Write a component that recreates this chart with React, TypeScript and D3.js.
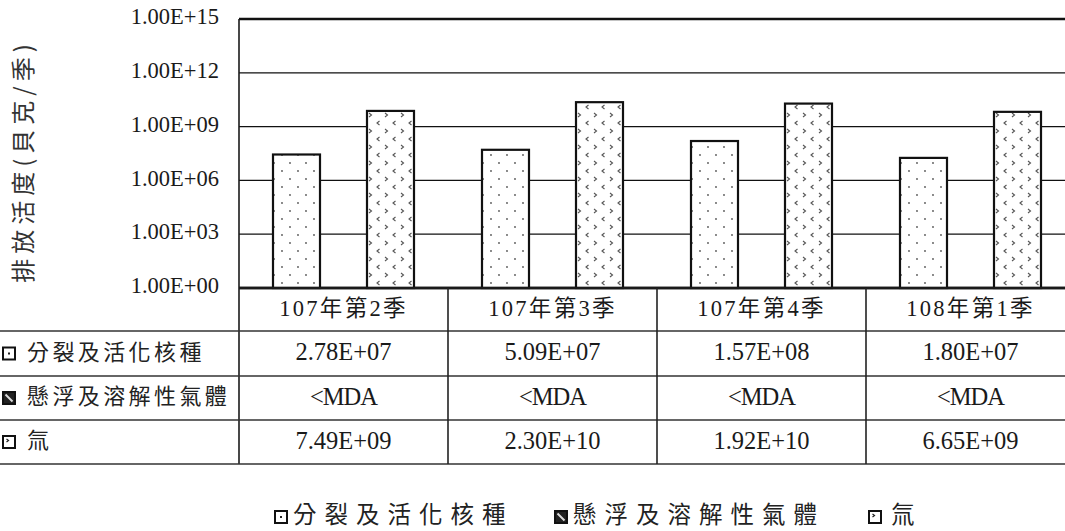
import React from 'react';
import * as d3 from 'd3';

const categories = ['107年第2季', '107年第3季', '107年第4季', '108年第1季'];
const seriesNames = ['分裂及活化核種', '懸浮及溶解性氣體', '氚'];
const fissionValues: (number | null)[] = [2.78e7, 5.09e7, 1.57e8, 1.8e7];
const gasValues: (number | null)[] = [null, null, null, null];
const tritiumValues: (number | null)[] = [7.49e9, 2.3e10, 1.92e10, 6.65e9];
const yTicks = [1e0, 1e3, 1e6, 1e9, 1e12, 1e15];
const yTitle = '排放活度(貝克/季)';
const missingLabel = '<MDA';

const W = 1065;
const H = 531;
const plotLeft = 239;
const plotRight = 1075;
const plotTop = 19;
const plotBottom = 288;
const rowBottoms = [331, 376, 420, 464];

const serif = '"Liberation Serif", "Noto Sans CJK TC", serif';
const cjk = '"Liberation Serif", "Noto Sans CJK TC", sans-serif';
const cjkOnly = '"Noto Sans CJK TC", sans-serif';
const ink = '#1a1a1a';

function fmtExp(v: number | null): string {
  if (v === null) return missingLabel;
  const e = Math.floor(Math.log10(v));
  const m = v / Math.pow(10, e);
  const sign = e >= 0 ? '+' : '-';
  return `${m.toFixed(2)}E${sign}${String(Math.abs(e)).padStart(2, '0')}`;
}

const seriesData = [fissionValues, gasValues, tritiumValues];
const patternIds = ['pDots', 'pHatch', 'pChev'];

function KeyBox({ x, y, idx }: { x: number; y: number; idx: number }) {
  const s = 12;
  return (
    <g transform={`translate(${x},${y})`}>
      <rect x={0} y={0} width={s} height={s} fill={idx === 1 ? '#222' : '#fff'} stroke="#111" strokeWidth={2} />
      {idx === 0 && <rect x={5} y={5} width={2} height={2} fill="#222" />}
      {idx === 1 && <line x1={2.5} y1={2.5} x2={9.5} y2={9.5} stroke="#ddd" strokeWidth={2} />}
      {idx === 2 && <path d="M3.5,3 L5.5,4.5 L3.5,6" fill="none" stroke="#222" strokeWidth={1.2} />}
    </g>
  );
}

export default function App() {
  const y = d3.scaleLog().domain([1, 1e15]).range([plotBottom, plotTop]);
  const x0 = d3.scaleBand<string>().domain(categories).range([plotLeft, plotRight]).paddingInner(0).paddingOuter(0);
  const bw = x0.bandwidth();
  const gap = 34;
  const x1 = d3.scaleBand<number>().domain([0, 1, 2]).range([gap, bw - gap]).padding(0);

  const rowCenters = [
    (plotBottom + rowBottoms[0]) / 2,
    (rowBottoms[0] + rowBottoms[1]) / 2,
    (rowBottoms[1] + rowBottoms[2]) / 2,
    (rowBottoms[2] + rowBottoms[3]) / 2,
  ];

  const legendItems = [
    { key: 275, text: 293 },
    { key: 555, text: 573 },
    { key: 869, text: 891 },
  ];

  return (
    <div style={{ position: 'fixed', left: 0, top: 0, width: W, height: H, background: '#fff' }}>
      <svg width={W} height={H} viewBox={`0 0 ${W} ${H}`} style={{ display: 'block' }}>
        <defs>
          <pattern id="pDots" width={16} height={16} patternUnits="userSpaceOnUse">
            <rect width={16} height={16} fill="#fff" />
            <circle cx={3} cy={3} r={0.9} fill="#555" />
            <circle cx={11} cy={11} r={0.9} fill="#555" />
          </pattern>
          <pattern id="pHatch" width={6} height={6} patternUnits="userSpaceOnUse">
            <rect width={6} height={6} fill="#fff" />
            <path d="M0,0 L6,6" stroke="#222" strokeWidth={2} />
          </pattern>
          <pattern id="pChev" width={16} height={16} patternUnits="userSpaceOnUse">
            <rect width={16} height={16} fill="#fff" />
            <path d="M2,1 L4.5,3 L2,5" fill="none" stroke="#555" strokeWidth={1.1} />
            <path d="M12.5,9 L10,11 L12.5,13" fill="none" stroke="#555" strokeWidth={1.1} />
          </pattern>
        </defs>

        {/* gridlines */}
        {yTicks.map((t) => (
          <line
            key={`g${t}`}
            x1={plotLeft}
            x2={plotRight}
            y1={y(t)}
            y2={y(t)}
            stroke="#111"
            strokeWidth={t === 1e15 || t === 1 ? 2.4 : 1.3}
          />
        ))}

        {/* bars */}
        {categories.map((c, ci) => (
          <g key={c} transform={`translate(${x0(c)},0)`}>
            {seriesData.map((vals, si) => {
              const v = vals[ci];
              if (v === null || v === undefined) return null;
              const top = y(v);
              return (
                <rect
                  key={si}
                  x={x1(si)}
                  y={top}
                  width={x1.bandwidth()}
                  height={plotBottom - top}
                  fill={`url(#${patternIds[si]})`}
                  stroke="#111"
                  strokeWidth={2.2}
                />
              );
            })}
          </g>
        ))}

        {/* axis lines */}
        <line x1={plotLeft} x2={plotLeft} y1={plotTop} y2={rowBottoms[3]} stroke={ink} strokeWidth={1.6} />
        <line x1={plotLeft} x2={plotRight} y1={plotBottom} y2={plotBottom} stroke={ink} strokeWidth={2.4} />

        {/* y tick labels */}
        {yTicks.map((t) => (
          <text
            key={`t${t}`}
            x={219}
            y={y(t)}
            textAnchor="end"
            dominantBaseline="middle"
            fontFamily={serif}
            fontSize={22.5}
            fill={ink}
          >
            {fmtExp(t)}
          </text>
        ))}

        {/* y title */}
        <text
          transform={`translate(25,161) rotate(-90)`}
          textAnchor="middle"
          dominantBaseline="middle"
          fontFamily={cjkOnly}
          fontSize={24}
          letterSpacing={5}
          fill="#333"
        >
          {yTitle}
        </text>

        {/* table lines */}
        {rowBottoms.map((rb) => (
          <line key={`r${rb}`} x1={0} x2={W} y1={rb} y2={rb} stroke="#333" strokeWidth={1.6} />
        ))}
        {categories.slice(1).map((c) => (
          <line key={`v${c}`} x1={x0(c)} x2={x0(c)} y1={plotBottom} y2={rowBottoms[3]} stroke="#222" strokeWidth={1.6} />
        ))}

        {/* header */}
        {categories.map((c) => (
          <text
            key={`h${c}`}
            x={(x0(c) as number) + bw / 2}
            y={rowCenters[0] + 1}
            textAnchor="middle"
            dominantBaseline="middle"
            fontFamily={cjk}
            fontSize={22.5}
            letterSpacing={2.3}
            fill={ink}
          >
            {c}
          </text>
        ))}

        {/* rows */}
        {seriesNames.map((name, si) => (
          <g key={name}>
            <KeyBox x={3} y={rowCenters[si + 1] - 6} idx={si} />
            <text
              x={27}
              y={rowCenters[si + 1] + 1}
              dominantBaseline="middle"
              fontFamily={cjk}
              fontSize={22}
              letterSpacing={3.4}
              fill="#222"
            >
              {name}
            </text>
            {categories.map((c, ci) => (
              <text
                key={c}
                x={(x0(c) as number) + bw / 2}
                y={rowCenters[si + 1] + 1}
                textAnchor="middle"
                dominantBaseline="middle"
                fontFamily={serif}
                fontSize={24.5}
                letterSpacing={seriesData[si][ci] === null ? -1 : 0}
                fill={ink}
              >
                {fmtExp(seriesData[si][ci])}
              </text>
            ))}
          </g>
        ))}

        {/* legend */}
        {seriesNames.map((name, si) => (
          <g key={`l${name}`}>
            <KeyBox x={legendItems[si].key} y={511} idx={si} />
            <text
              x={legendItems[si].text}
              y={518}
              dominantBaseline="middle"
              fontFamily={cjk}
              fontSize={23.5}
              letterSpacing={8}
              fill="#222"
            >
              {name}
            </text>
          </g>
        ))}
      </svg>
    </div>
  );
}
